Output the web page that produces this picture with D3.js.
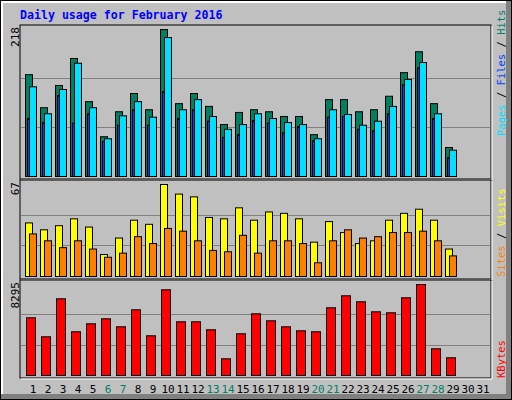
<!DOCTYPE html>
<html lang="en">
<head>
<meta charset="UTF-8">
<script src="https://d3js.org/d3.v7.min.js"></script>
<style>
  body { margin: 0; background: #fff; }
  svg { display: block; }
</style>
</head>
<body>
<div id="container"></div>
<script>
// Daily values, February 2016 (days 1..29)
const days = d3.range(1, 32);
const weekendDays = [6, 7, 13, 14, 20, 21, 27, 28];
const hits   = [151,102,135,175,111,59,96,123,99,218,108,123,104,77,95,99,96,89,89,62,114,114,96,99,119,154,185,108,43];
const files  = [133,93,129,168,102,56,90,111,88,206,99,114,89,70,77,93,86,80,77,56,99,92,76,82,104,144,169,93,39];
const pages  = [86,80,120,79,93,52,76,99,76,126,86,99,82,58,62,83,79,65,74,53,88,89,70,68,93,136,161,86,28];
const visits = [39,34,37,42,36,16,28,41,38,67,60,58,43,42,50,41,47,46,42,25,40,32,24,26,41,46,49,41,20];
const sites  = [31,26,21,26,20,14,17,29,24,35,33,26,19,18,30,17,26,26,24,10,26,34,28,29,32,32,33,26,15];
const kbytes = [5259,3528,6991,3983,4712,5168,4439,5989,3619,7812,4895,4895,4166,1522,3801,5624,4986,4439,4074,3983,6171,7265,6718,5806,5715,7082,8295,2434,1613];

const width = 512, height = 400;
const mono = "'DejaVu Sans Mono', monospace";

const svg = d3.select("#container").append("svg")
  .attr("width", width).attr("height", height);

// outer frame
svg.append("rect").attr("x", 0).attr("y", 0).attr("width", width).attr("height", height).attr("fill", "#000");
svg.append("rect").attr("x", 1).attr("y", 1).attr("width", 510).attr("height", 398).attr("fill", "#808080");
svg.append("rect").attr("x", 1).attr("y", 1).attr("width", 505).attr("height", 393).attr("fill", "#fff");
svg.append("rect").attr("x", 3).attr("y", 3).attr("width", 503).attr("height", 391).attr("fill", "#c0c0c0");

svg.append("text").attr("x", 20).attr("y", 19)
  .attr("font-family", mono).attr("font-weight", "bold").attr("font-size", 11.6)
  .attr("fill", "#0000ff").text("Daily usage for February 2016");

const x = d3.scaleLinear().domain([1, 31]).range([25, 475]);

const panels = [
  { top: 25, bottom: 179, base: 176, max: 218 },
  { top: 180, bottom: 279, base: 276, max: 67 },
  { top: 280, bottom: 378, base: 375, max: 8295 }
];

panels.forEach(p => {
  p.y = d3.scaleLinear().domain([0, p.max]).range([p.base, p.top + 4]);
  svg.append("rect").attr("x", 20).attr("y", p.top).attr("width", 471).attr("height", p.bottom - p.top)
    .attr("fill", "#c0c0c0").attr("stroke", "#000");
  svg.append("path").attr("d", `M21,${p.bottom + 1}H492V${p.top + 1}`).attr("fill", "none").attr("stroke", "#fff");
  [p.max / 3, 2 * p.max / 3].forEach(v => {
    svg.append("line").attr("x1", 21).attr("x2", 490)
      .attr("y1", Math.round(p.y(v)) + 0.5).attr("y2", Math.round(p.y(v)) + 0.5)
      .attr("stroke", "#808080");
  });
  svg.append("text").attr("transform", `translate(19,${p.top + 2}) rotate(-90)`)
    .attr("text-anchor", "end").attr("font-family", mono).attr("font-size", 11).attr("fill", "#000")
    .text(p.max);
});

function bars(data, panel, dx, w, color) {
  svg.append("g").selectAll("rect").data(data).join("rect")
    .attr("x", (d, i) => x(i + 1) + dx + 0.5)
    .attr("y", d => panel.y(d) + 0.5)
    .attr("width", w)
    .attr("height", d => panel.base - panel.y(d))
    .attr("fill", color).attr("stroke", "#000");
}

bars(hits, panels[0], 0, 7, "#008060");
bars(pages, panels[0], 2, 2, "#0040ff");
bars(files, panels[0], 4, 7, "#00e0ff");
bars(visits, panels[1], 0, 7, "#ffff00");
bars(sites, panels[1], 4, 7, "#ff8000");
bars(kbytes, panels[2], 1, 9, "#ff0000");

// day labels
svg.append("g").selectAll("text").data(days).join("text")
  .attr("x", d => x(d) + 8).attr("y", 393)
  .attr("text-anchor", "middle").attr("font-family", mono).attr("font-size", 11)
  .attr("fill", d => weekendDays.includes(d) ? "#008060" : "#000")
  .text(d => d);

// right-side legends, read bottom to top
function legend(parts, yBottom) {
  const t = svg.append("text").attr("transform", `translate(505,${yBottom}) rotate(-90)`)
    .attr("font-family", mono).attr("font-size", 10.5);
  parts.forEach(([s, c]) => t.append("tspan").attr("fill", c).text(s));
}
legend([["Pages", "#00e0ff"], [" / ", "#000"], ["Files", "#0040ff"], [" / ", "#000"], ["Hits", "#008060"]], 136);
legend([["Sites", "#ff8000"], [" / ", "#000"], ["Visits", "#ffff00"]], 277);
legend([["KBytes", "#ff0000"]], 378);
</script>
</body>
</html>
